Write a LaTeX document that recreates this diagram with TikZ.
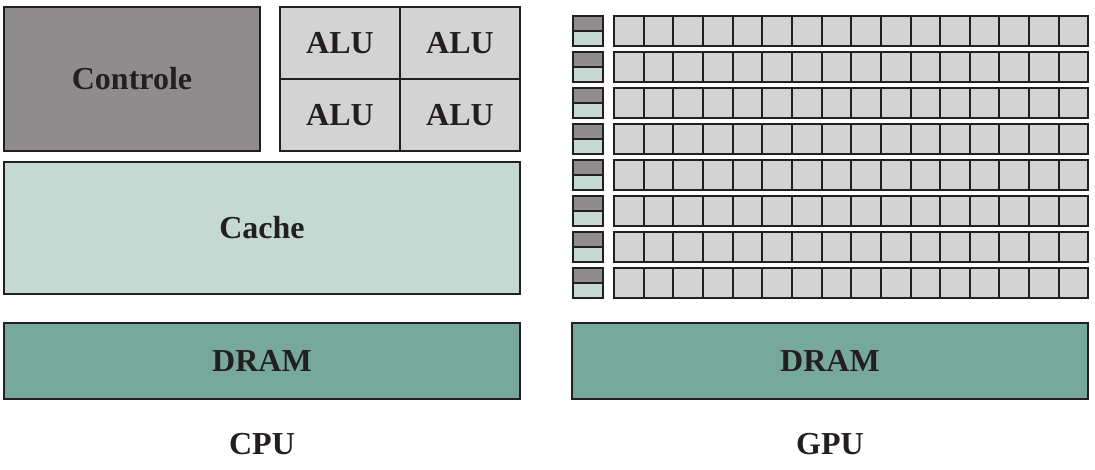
\documentclass[tikz,border=0pt]{standalone}
\usepackage{fontspec}
\setmainfont{Liberation Serif}
\definecolor{edge}{HTML}{231F20}
\definecolor{ctrlgray}{HTML}{8F8C8D}
\definecolor{alugray}{HTML}{D3D3D3}
\definecolor{cachegreen}{HTML}{C5D9D3}
\definecolor{dramgreen}{HTML}{76A99B}
\begin{document}
\begin{tikzpicture}[x=1pt,y=-1pt,
    box/.style={draw=edge,line width=2.4pt,inner sep=0pt,text=edge,
      font=\fontsize{32}{34}\selectfont\bfseries},
    cell/.style={draw=edge,line width=2pt,inner sep=0pt,anchor=north west},
    title/.style={text=edge,font=\fontsize{32}{34}\selectfont\bfseries}]
  \useasboundingbox (0,0) rectangle (1095,470);
  % CPU
  \node[box,fill=ctrlgray,minimum width=256pt,minimum height=144pt] (ctrl) at (132,79) {Controle};
  \node[box,fill=alugray,minimum width=120pt,minimum height=72pt] (alu1) at (340,43) {ALU};
  \node[box,fill=alugray,minimum width=120pt,minimum height=72pt] (alu2) at (460,43) {ALU};
  \node[box,fill=alugray,minimum width=120pt,minimum height=72pt] (alu3) at (340,115) {ALU};
  \node[box,fill=alugray,minimum width=120pt,minimum height=72pt] (alu4) at (460,115) {ALU};
  \node[box,fill=cachegreen,minimum width=516pt,minimum height=132pt] (cache) at (262,228) {Cache};
  \node[box,fill=dramgreen,minimum width=516pt,minimum height=76pt] (cpudram) at (262,361) {DRAM};
  \node[title] (cpu) at (262,444) {CPU};
  % GPU
  \foreach \r in {0,...,7} {
    \node[cell,fill=ctrlgray,minimum width=30pt,minimum height=15pt] (ctl\r) at (572,15+36*\r) {};
    \node[cell,fill=cachegreen,minimum width=30pt,minimum height=15pt] (cch\r) at (572,30+36*\r) {};
    \foreach \c in {0,...,15}
      \node[cell,fill=alugray,minimum width=29.65pt,minimum height=30pt] (core\r-\c) at (613+29.65*\c,15+36*\r) {};
  }
  \node[box,fill=dramgreen,minimum width=516pt,minimum height=76pt] (gpudram) at (830,361) {DRAM};
  \node[title] (gpu) at (830,444) {GPU};
\end{tikzpicture}
\end{document}
